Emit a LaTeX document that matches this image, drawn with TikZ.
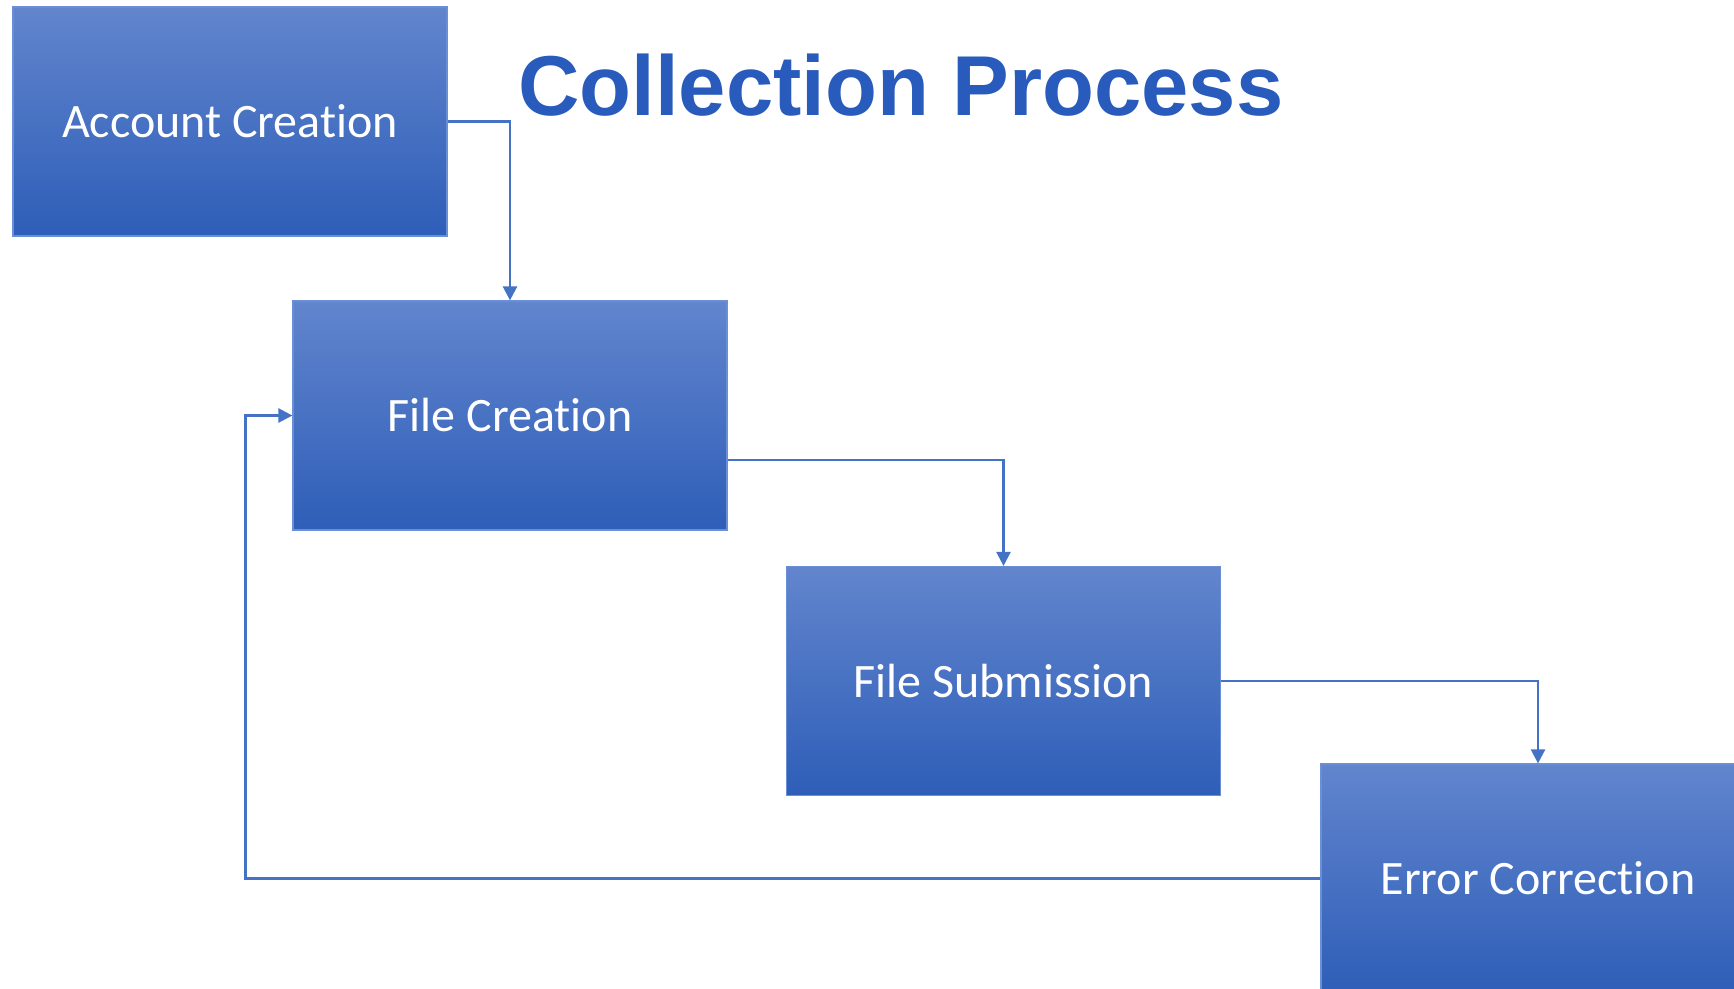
\documentclass[tikz,border=0pt]{standalone}
\usepackage{fontspec}
\setmainfont{Carlito}[Ligatures=NoCommon]
\newfontfamily\titlefont{Liberation Sans}
\usetikzlibrary{arrows.meta}
\definecolor{boxtop}{RGB}{98,133,205}
\definecolor{boxmid}{RGB}{68,115,203}
\definecolor{boxbot}{RGB}{46,94,184}
\definecolor{boxedge}{RGB}{105,143,214}
\definecolor{linecol}{RGB}{68,114,196}
\definecolor{titlecol}{RGB}{40,91,188}
\tikzset{
  procbox/.style={rectangle, minimum width=434pt, minimum height=229pt, inner sep=0pt,
    top color=boxtop, middle color=boxmid, bottom color=boxbot, draw=boxedge, line width=1.2pt,
    text=white, font=\fontsize{48}{58}\selectfont},
  conn/.style={draw=linecol, line width=2.4pt, -{Triangle[length=14pt,width=14pt]}}
}
\begin{document}
\begin{tikzpicture}[x=1pt,y=-1pt]
\clip (0,0) rectangle (1734,988);
\fill[white] (0,0) rectangle (1734,988);
\node[procbox] (acc) at (230,121.5) {Account Creation};
\node[procbox] (fc) at (510,415.5) {File Creation};
\node[procbox] (fs) at (1003.5,681) {File Submission};
\node[procbox] (ec) at (1538,878.5) {Error Correction};
\node[anchor=base west, inner sep=0pt, text=titlecol, font=\titlefont\bfseries\fontsize{85}{100}\selectfont] (title) at (518,115) {Collection Process};
\coordinate (loopx) at (245.5,0);
\draw[conn] (acc.east) -| (fc.north);
\draw[conn] ([yshift=-44.5pt]fc.east) -| (fs.north);
\draw[conn] (fs.east) -| (ec.north);
\draw[conn] (ec.west) -- (ec.west -| loopx) |- (fc.west);
\end{tikzpicture}
\end{document}
